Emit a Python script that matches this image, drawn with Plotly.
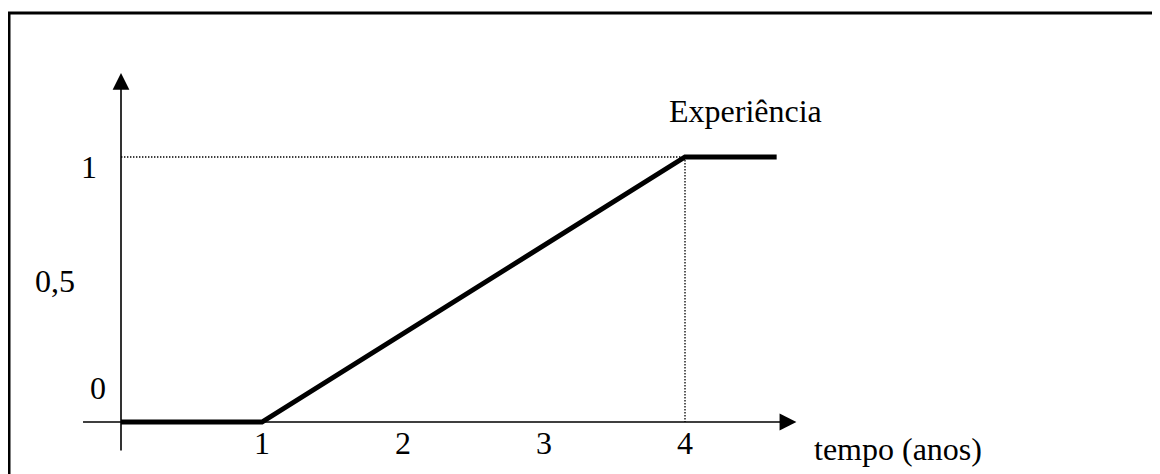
import plotly.graph_objects as go

# data
curve_x = [0, 1, 4, 4.65]
curve_y = [0, 0, 1, 1]
x_ticks = [1, 2, 3, 4]
x_tick_labels = ["1", "2", "3", "4"]
y_ticks = [0, 0.5, 1]
y_tick_labels = ["0", "0,5", "1"]
curve_label = "Experiência"
x_title = "tempo (anos)"
x_axis_extent = [-0.28, 4.79]
y_axis_extent = [-0.113, 1.317]
plateau_x = 4
plateau_y = 1

# page body has an 8px margin, so the figure is sized to fill the rest of the window
W, H = 1152, 466
X0PX, XSCALE = 113, 141.0
Y0PX, YSCALE = 414, 265.0
xr = [-X0PX / XSCALE, (W - X0PX) / XSCALE]
yr = [(Y0PX - H) / YSCALE, Y0PX / YSCALE]

FONT = dict(family="Liberation Serif, Times New Roman, serif", size=32, color="black")
DOT = dict(color="black", width=1.3, dash="1.4px,1.6px")

fig = go.Figure()

# dotted guide lines
fig.add_trace(go.Scatter(x=[0, plateau_x], y=[plateau_y, plateau_y], mode="lines",
                         line=DOT, hoverinfo="skip", showlegend=False))
fig.add_trace(go.Scatter(x=[plateau_x, plateau_x], y=[plateau_y, 0], mode="lines",
                         line=DOT, hoverinfo="skip", showlegend=False))

# main curve
fig.add_trace(go.Scatter(x=curve_x, y=curve_y, mode="lines",
                         line=dict(color="black", width=5),
                         hoverinfo="skip", showlegend=False))

annotations = []
# axes with arrowheads
annotations.append(dict(x=x_axis_extent[1], y=0, ax=x_axis_extent[0], ay=0,
                        xref="x", yref="y", axref="x", ayref="y", text="",
                        showarrow=True, arrowhead=2, arrowsize=2.1, arrowwidth=1.6,
                        arrowcolor="black"))
annotations.append(dict(x=0, y=y_axis_extent[1], ax=0, ay=y_axis_extent[0],
                        xref="x", yref="y", axref="x", ayref="y", text="",
                        showarrow=True, arrowhead=2, arrowsize=2.1, arrowwidth=1.6,
                        arrowcolor="black"))

# x tick labels
for v, t in zip(x_ticks, x_tick_labels):
    annotations.append(dict(x=v, y=0, xref="x", yref="y", text=t, showarrow=False,
                            xanchor="center", yanchor="middle", yshift=-21, font=FONT))

# y tick labels (hand-placed offsets as in the sketch)
y_label_shift = {"0": (-23, 34), "0,5": (-66, 9), "1": (-32, -10)}
for v, t in zip(y_ticks, y_tick_labels):
    dx, dy = y_label_shift[t]
    annotations.append(dict(x=0, y=v, xref="x", yref="y", text=t, showarrow=False,
                            xanchor="center", yanchor="middle", xshift=dx, yshift=dy,
                            font=FONT))

annotations.append(dict(x=4.43, y=plateau_y, xref="x", yref="y", text=curve_label,
                        showarrow=False, xanchor="center", yanchor="middle", yshift=46,
                        font=FONT))
annotations.append(dict(x=x_axis_extent[1], y=0, xref="x", yref="y", text=x_title,
                        showarrow=False, xanchor="left", yanchor="middle",
                        xshift=16, yshift=-27, font=FONT))

fig.update_layout(
    width=W, height=H,
    margin=dict(l=0, r=0, t=0, b=0),
    paper_bgcolor="white", plot_bgcolor="white",
    xaxis=dict(range=xr, visible=False, fixedrange=True),
    yaxis=dict(range=yr, visible=False, fixedrange=True),
    annotations=annotations,
    shapes=[
        dict(type="line", xref="paper", yref="paper", x0=1 / W, x1=1 / W,
             y0=-0.1, y1=1 - 5 / H, line=dict(color="black", width=3)),
        dict(type="line", xref="paper", yref="paper", x0=-0.5 / W, x1=1.05,
             y0=1 - 5 / H, y1=1 - 5 / H, line=dict(color="black", width=3)),
    ],
    showlegend=False,
)

fig.write_html("out.html")
